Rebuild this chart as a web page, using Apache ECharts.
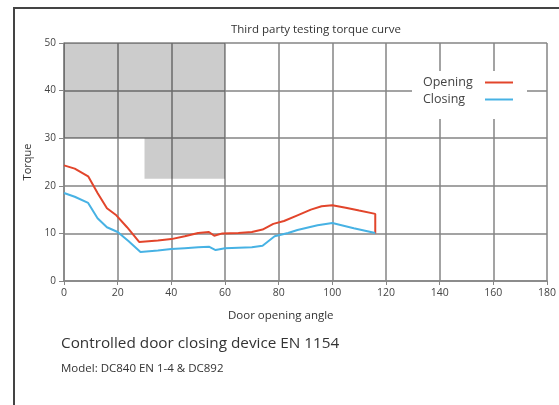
<!DOCTYPE html>
<html>
<head>
<meta charset="utf-8">
<script src="https://cdn.jsdelivr.net/npm/echarts@6/dist/echarts.min.js"></script>
<style>
  html, body { margin: 0; padding: 0; background: #fff; }
  #chart { width: 559px; height: 405px; }
</style>
</head>
<body>
<div id="chart"></div>
<script>
// door angle (deg) / torque readings
var openingAngle = [0, 4, 9, 12.5, 16, 19.5, 23.5, 28, 35, 40, 45, 50, 54, 56, 56.5, 59, 65, 70, 74, 78, 82, 87, 92, 96, 100, 105, 110, 116, 116];
var openingTorque = [24.3, 23.6, 22.0, 18.5, 15.3, 13.8, 11.3, 8.2, 8.5, 8.8, 9.4, 10.1, 10.3, 9.5, 9.2, 10.0, 10.1, 10.3, 10.8, 12.0, 12.6, 13.8, 15.0, 15.7, 15.9, 15.4, 14.8, 14.1, 10.0];
var closingAngle = [0, 4, 9, 12.5, 16, 20, 24, 28.5, 35, 40, 45, 50, 54, 56.5, 60, 65, 70, 74, 78.5, 83.5, 87, 94.5, 100, 108, 116];
var closingTorque = [18.5, 17.7, 16.4, 13.2, 11.3, 10.3, 8.4, 6.1, 6.4, 6.7, 6.9, 7.1, 7.2, 6.5, 6.9, 7.0, 7.1, 7.4, 9.4, 10.1, 10.7, 11.7, 12.2, 11.1, 10.1];
var seriesNames = ['Opening', 'Closing'];
// gray zones: [x1, y1, x2, y2]
var zones = [[0, 30, 60, 50], [30, 21.5, 60, 30]];

function pairs(xs, ys) {
  var out = [];
  for (var i = 0; i < xs.length; i++) out.push([xs[i], ys[i]]);
  return out;
}

var chart = echarts.init(document.getElementById('chart'));
var font = '"Open Sans", "Noto Sans", sans-serif';
var gridColor = '#858585';

var option = {
  backgroundColor: '#fff',
  animation: false,
  textStyle: { fontFamily: font },
  title: {
    text: 'Third party testing torque curve',
    left: 311,
    top: 19,
    textAlign: 'center',
    textStyle: { fontSize: 11.5, fontWeight: 'normal', color: '#333', fontFamily: font }
  },
  color: ['#e2452b', '#47b2e4'],
  legend: {
    data: seriesNames,
    orient: 'vertical',
    left: 412,
    top: 71,
    align: 'right',
    backgroundColor: '#fff',
    padding: [5, 14, 13, 11],
    itemGap: 4,
    itemWidth: 28,
    itemHeight: 2,
    icon: 'rect',
    formatter: '{a|{name}}',
    textStyle: {
      fontFamily: font,
      rich: { a: { width: 57, align: 'left', fontSize: 12.5, color: '#444', fontFamily: font, lineHeight: 18 } }
    }
  },
  grid: { left: 64, right: 8, top: 43, bottom: 124 },
  xAxis: {
    type: 'value',
    min: 0, max: 180, interval: 20,
    axisLine: { show: true, lineStyle: { color: gridColor, width: 1.5 } },
    axisTick: { show: true, length: 4, lineStyle: { color: gridColor } },
    axisLabel: { fontSize: 10.5, color: '#444', margin: 7 },
    splitLine: { show: true, lineStyle: { color: gridColor, width: 1.5 } }
  },
  yAxis: {
    type: 'value',
    min: 0, max: 50, interval: 10,
    name: 'Torque',
    nameLocation: 'middle',
    nameGap: 29,
    nameTextStyle: { fontSize: 11, color: '#333' },
    axisLine: { show: true, lineStyle: { color: gridColor, width: 1.5 } },
    axisTick: { show: true, length: 5, lineStyle: { color: gridColor } },
    axisLabel: { fontSize: 10, color: '#444', margin: 8 },
    splitLine: { show: true, lineStyle: { color: gridColor, width: 1.5 } }
  },
  graphic: [
    { type: 'polyline', shape: { points: [[14, 405], [14, 8], [559, 8]] }, style: { stroke: '#444', lineWidth: 2, fill: null } },
    { type: 'text', left: 228, top: 310, style: { text: 'Door opening angle', fontSize: 11.5, fill: '#333', fontFamily: font } },
    { type: 'text', left: 61, top: 336, style: { text: 'Controlled door closing device EN 1154', fontSize: 15.3, fill: '#333', fontFamily: font } },
    { type: 'text', left: 61, top: 363, style: { text: 'Model: DC840 EN 1-4 & DC892', fontSize: 11.5, fill: '#333', fontFamily: font } }
  ],
  series: [
    {
      name: seriesNames[0],
      type: 'line',
      data: pairs(openingAngle, openingTorque),
      symbol: 'none',
      lineStyle: { width: 2 },
      z: 3,
      markArea: {
        silent: true,
        itemStyle: { color: 'rgba(0,0,0,0.2)' },
        data: zones.map(function (z) { return [{ coord: [z[0], z[1]] }, { coord: [z[2], z[3]] }]; })
      }
    },
    {
      name: seriesNames[1],
      type: 'line',
      data: pairs(closingAngle, closingTorque),
      symbol: 'none',
      lineStyle: { width: 2 },
      z: 3
    }
  ]
};

chart.setOption(option);
</script>
</body>
</html>
